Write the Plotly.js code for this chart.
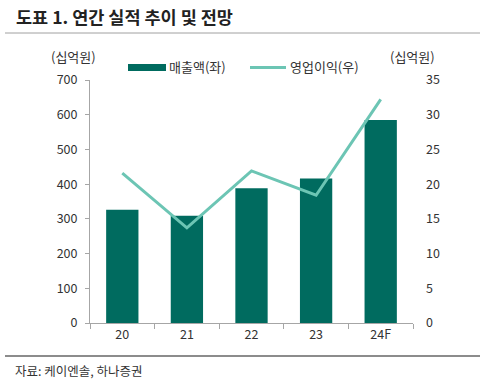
<!DOCTYPE html>
<html><head><meta charset="utf-8">
<script src="https://cdn.plot.ly/plotly-3.0.1.min.js"></script>
<style>html,body{margin:0;padding:0;background:#fff}#c{width:487px;height:388px}</style>
</head><body><div id="c"></div>
<script>
const categories = ['20', '21', '22', '23', '24F'];
const sales = [326, 309, 388, 416, 585];
const opProfit = [21.6, 13.7, 21.9, 18.4, 32.2];
const leftTicks = [0, 100, 200, 300, 400, 500, 600, 700];
const rightTicks = [0, 5, 10, 15, 20, 25, 30, 35];

const F = '"Noto Sans CJK KR", "Noto Sans", sans-serif';
const barColor = '#006B5F';
const lineColor = '#6CC5B4';
const txt = '#333333';

const data = [
  {type: 'bar', x: categories, y: sales, name: '매출액(좌)', marker: {color: barColor}, width: 0.5, yaxis: 'y', showlegend: false, hoverinfo: 'skip'},
  {type: 'scatter', mode: 'lines', x: categories, y: opProfit, name: '영업이익(우)', line: {color: lineColor, width: 3}, yaxis: 'y2', showlegend: false, hoverinfo: 'skip'}
];

const layout = {
  width: 487, height: 388,
  margin: {l: 90, r: 74, t: 80, b: 65},
  paper_bgcolor: '#fff', plot_bgcolor: '#fff',
  font: {family: F, size: 12, color: txt},
  xaxis: {
    type: 'category', showgrid: false, showline: true, linecolor: '#a6a6a6', linewidth: 1,
    ticks: 'outside', tickson: 'boundaries', ticklen: 5, tickcolor: '#a6a6a6',
    tickfont: {family: F, size: 12.5, color: txt}, zeroline: false
  },
  yaxis: {
    range: [0, 700], tickvals: leftTicks, showgrid: false, zeroline: false,
    showline: true, linecolor: '#a6a6a6', linewidth: 1, ticks: 'outside', ticklen: 4, tickcolor: '#a6a6a6',
    tickfont: {family: F, size: 12.5, color: txt}, ticklabelstandoff: 5
  },
  yaxis2: {
    overlaying: 'y', side: 'right', range: [0, 35], tickvals: rightTicks, showgrid: false, zeroline: false,
    showline: false, ticks: '', tickfont: {family: F, size: 12.5, color: txt}, ticklabelstandoff: 12
  },
  shapes: [
    {type: 'line', xref: 'paper', yref: 'paper', x0: -85/323, x1: 390/323, y0: (388-65-33)/243, y1: (388-65-33)/243, line: {color: '#a0a0a0', width: 1}},
    {type: 'line', xref: 'paper', yref: 'paper', x0: -85/323, x1: 390/323, y0: (388-65-356)/243, y1: (388-65-356)/243, line: {color: '#8c8c8c', width: 2}},
    {type: 'rect', xref: 'paper', yref: 'paper', x0: (128-90)/323, x1: (166-90)/323, y0: (323-71)/243, y1: (323-64)/243, fillcolor: barColor, line: {width: 0}},
    {type: 'line', xref: 'paper', yref: 'paper', x0: (250-90)/323, x1: (286-90)/323, y0: (323-67.5)/243, y1: (323-67.5)/243, line: {color: lineColor, width: 3}}
  ],
  annotations: [
    {text: '<b>도표 1. 연간 실적 추이 및 전망</b>', xref: 'paper', yref: 'paper', x: (14-90)/323, y: (323-17)/243, xanchor: 'left', yanchor: 'middle', showarrow: false, font: {family: F, size: 17.5, color: '#222'}},
    {text: '(십억원)', xref: 'paper', yref: 'paper', x: (73-90)/323, y: (323-56)/243, xanchor: 'center', yanchor: 'middle', showarrow: false, font: {family: F, size: 13, color: txt}},
    {text: '(십억원)', xref: 'paper', yref: 'paper', x: (412-90)/323, y: (323-56)/243, xanchor: 'center', yanchor: 'middle', showarrow: false, font: {family: F, size: 13, color: txt}},
    {text: '매출액(좌)', xref: 'paper', yref: 'paper', x: (167-90)/323, y: (323-67)/243, xanchor: 'left', yanchor: 'middle', showarrow: false, font: {family: F, size: 13, color: txt}},
    {text: '영업이익(우)', xref: 'paper', yref: 'paper', x: (288-90)/323, y: (323-67)/243, xanchor: 'left', yanchor: 'middle', showarrow: false, font: {family: F, size: 13, color: txt}},
    {text: '자료: 케이엔솔, 하나증권', xref: 'paper', yref: 'paper', x: (13-90)/323, y: (323-370)/243, xanchor: 'left', yanchor: 'middle', showarrow: false, font: {family: F, size: 12.5, color: txt}}
  ]
};

Plotly.newPlot('c', data, layout, {displayModeBar: false, staticPlot: true});
</script></body></html>
